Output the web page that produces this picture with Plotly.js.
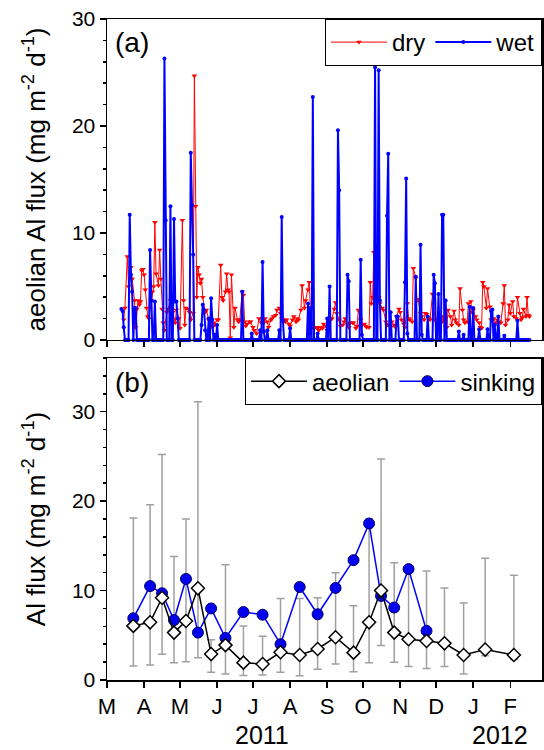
<!DOCTYPE html>
<html><head><meta charset="utf-8">
<script src="https://cdn.plot.ly/plotly-3.0.1.min.js"></script>
<style>html,body{margin:0;padding:0;background:#fff}</style>
</head><body><div id="chart" style="width:544px;height:750px"></div>
<script>
// ---- data ----
const startDate = '2011-03-01';           // day 0
const dryDays = [14,15,17,18,20,21,23,24,25,26,
 27,28,29,30,31,32,33,34,35,37,
 38,39,40,41,43,44,45,46,47,48,
 50,51,53,54,55,57,58,60,61,63,
 64,65,66,68,69,70,72,73,74,75,
 76,77,78,79,80,82,83,85,86,88,
 89,90,92,93,95,96,97,99,100,101,
 102,103,104,106,107,109,110,111,113,114,
 115,116,117,119,120,122,123,125,127,129,
 130,131,132,134,135,137,138,139,141,142,
 144,145,146,148,149,150,152,153,155,156,
 158,159,160,162,163,165,166,168,169,170,
 172,173,175,176,177,179,180,181,183,184,
 185,187,188,190,191,192,194,195,197,198,
 199,201,202,203,205,206,208,209,210,212,
 213,215,216,217,219,220,221,222,223,224,
 227,228,230,231,233,234,235,237,238,240,
 241,242,244,245,246,248,249,251,252,253,
 255,256,258,259,260,262,263,265,266,267,
 269,270,272,273,274,276,277,278,280,281,
 283,284,285,287,288,290,291,292,294,295,
 297,298,299,301,302,304,305,306,308,309,
 311,312,313,314,315,317,318,320,321,322,
 323,325,326,328,329,331,332,333,335,336,
 337,339,340,342,343,345,346,347,348,350,
 351,352,353];
const dryFlux = [1.9,3.0,7.8,5.0,6.8,5.7,3.7,1.2,2.9,3.7,
 3.3,3.6,6.5,6.6,6.1,4.7,3.0,2.2,2.0,3.7,
 4.5,5.0,11.0,6.2,5.1,8.4,5.7,2.9,1.6,0.9,
 2.6,2.9,3.7,1.9,2.6,1.6,2.8,2.0,1.1,11.2,
 3.7,1.4,3.0,2.9,2.6,1.9,2.5,24.7,12.5,4.0,
 6.8,6.1,5.3,5.7,4.0,2.6,2.8,1.9,1.7,1.2,
 1.6,1.4,1.9,1.9,7.0,4.0,3.7,4.5,6.2,4.7,
 4.5,0.2,6.1,1.2,3.0,1.9,1.7,1.9,4.5,4.2,
 1.7,1.3,1.5,1.7,1.7,1.2,0.9,0.6,2.0,1.6,
 1.9,1.6,2.0,1.7,1.2,1.9,2.0,2.2,2.3,2.8,
 3.0,2.5,2.0,1.9,1.7,1.9,1.5,1.3,1.9,2.2,
 1.7,2.0,1.9,2.8,5.1,3.0,3.7,4.7,5.4,2.8,
 1.2,1.1,1.2,1.1,0.9,1.2,1.1,1.5,1.3,0.9,
 1.9,1.9,2.0,2.9,3.5,2.5,1.9,1.3,1.4,1.7,
 2.0,1.5,1.2,1.6,1.6,1.6,1.1,1.3,2.8,1.9,
 1.4,1.5,1.3,1.2,1.2,5.4,3.4,4.0,8.2,5.0,
 4.0,3.4,3.0,2.8,1.7,1.4,1.5,1.2,1.7,1.4,
 1.2,2.2,2.9,2.6,1.9,1.5,1.2,3.4,2.0,1.9,
 1.7,6.7,5.8,3.7,3.8,2.5,2.2,1.9,2.5,2.4,
 2.0,1.9,4.3,3.4,1.9,1.5,1.2,1.9,1.7,2.2,
 1.2,1.2,2.8,2.2,1.4,2.7,1.9,1.6,1.4,4.8,
 2.8,1.9,1.6,1.7,3.4,3.6,2.6,2.8,2.2,1.9,
 1.6,1.2,1.1,5.4,5.0,3.0,4.8,3.1,1.9,1.9,
 2.0,1.6,1.9,1.7,1.6,3.4,5.1,1.4,1.9,3.3,
 2.5,3.6,2.2,2.0,4.0,2.5,1.9,2.1,2.9,2.2,
 4.0,2.3,2.2];
// wet deposition: sampled every day from wetFirstDay to wetLastDay, zero except on these days
const wetFirstDay = 12, wetLastDay = 353;
const wetEventDays = [12,13,14,19,20,21,23,24,36,37,40,48,49,53,56,57,58,59,70,71,72,
 79,80,81,82,85,87,88,90,92,113,121,128,130,131,134,144,146,147,153,168,170,172,176,
 184,186,193,194,201,202,212,213,224,227,228,234,235,237,242,243,249,250,251,258,262,263,268,
 273,274,277,280,281,283,294,298,303,306,311,318,321,322,324,327,332,343];
const wetEventFlux = [2.9,2.7,1.2,11.7,6.1,4.5,3.0,3.0,8.4,3.7,3.6,26.3,11.2,12.5,11.3,3.6,3.6,2.0,17.5,12.6,8.0,
 1.4,3.3,2.8,0.9,2.0,3.9,1.9,0.5,1.4,4.5,0.6,0.9,7.3,0.8,0.9,0.9,11.5,1.8,1.1,3.4,3.0,22.7,0.6,
 2.0,5.0,19.6,14.0,6.1,5.5,7.5,0.5,25.5,25.2,3.7,11.6,17.4,2.6,2.2,2.2,5.4,15.1,0.6,5.9,8.9,0.5,2.2,
 6.1,5.3,4.3,11.7,11.7,3.7,0.8,0.5,3.1,3.0,1.0,1.0,2.7,2.85,1.4,2.2,0.4,1.8];

const monthTicks = ['2011-03-01','2011-04-01','2011-05-01','2011-06-01','2011-07-01','2011-08-01',
 '2011-09-01','2011-10-01','2011-11-01','2011-12-01','2012-01-01','2012-02-01'];
const monthLabels = ['M','A','M','J','J','A','S','O','N','D','J','F'];
const xRange = ['2011-03-01','2012-02-27 12:00'];

const sampleDates = ['2011-03-23','2011-04-06','2011-04-16','2011-04-26','2011-05-06','2011-05-16',
 '2011-05-27','2011-06-08','2011-06-23','2011-07-09','2011-07-24','2011-08-09','2011-08-24',
 '2011-09-08','2011-09-23','2011-10-06','2011-10-16','2011-10-27','2011-11-08','2011-11-23',
 '2011-12-08','2011-12-24','2012-01-11','2012-02-04'];
const aeolianFlux = [6.05,6.45,9.2,5.3,6.6,10.25,2.9,3.9,1.94,1.79,3.1,2.8,3.47,4.78,3.06,6.45,10.0,5.3,4.55,4.37,4.1,2.8,3.4,2.8];
const aeolianHigh = [18.1,19.6,25.2,13.8,18.0,31.1,4.5,12.9,6.05,4.9,9.1,9.1,9.2,12.0,8.3,18.0,24.7,13.1,12.6,12.2,10.3,8.6,13.6,11.7];
const aeolianLow  = [1.57,1.68,2.87,1.94,2.05,2.5,0.86,0.67,0.49,0.56,0.86,0.48,1.2,1.79,0.93,1.94,3.85,1.98,1.5,1.3,1.5,0.67,2.7,2.3];
const sinkingFlux = [6.9,10.5,9.7,6.7,11.3,5.3,8.0,4.7,7.6,7.3,4.0,10.4,7.35,10.3,13.4,17.5,9.4,8.1,12.4,5.5];

// ---- helpers ----
function dayToDate(d){
  const t = new Date(Date.parse(startDate + 'T00:00:00Z') + d*86400000);
  return t.toISOString().slice(0,10);
}
const wetMap = {};
wetEventDays.forEach((d,i)=>{ wetMap[d] = wetEventFlux[i]; });
const wetX = [], wetY = [];
for (let d = wetFirstDay; d <= wetLastDay; d++){ wetX.push(dayToDate(d)); wetY.push(wetMap[d] !== undefined ? wetMap[d] : 0); }

const FONT = 'Liberation Sans, Arial, sans-serif';
const traces = [
  {x: dryDays.map(dayToDate), y: dryFlux, name:'dry', type:'scatter', mode:'lines+markers',
   xaxis:'x', yaxis:'y', legend:'legend',
   line:{color:'#ff0000', width:1}, marker:{symbol:'triangle-down', size:5, color:'#ff0000'}},
  {x: wetX, y: wetY, name:'wet', type:'scatter', mode:'lines+markers', cliponaxis:false,
   xaxis:'x', yaxis:'y', legend:'legend',
   line:{color:'#0000ff', width:2}, marker:{symbol:'circle', size:4, color:'#0000ff'}},
  {x: sampleDates, y: aeolianFlux, type:'scatter', mode:'markers', showlegend:false,
   xaxis:'x2', yaxis:'y2', hoverinfo:'skip',
   marker:{size:1, color:'rgba(0,0,0,0)'},
   error_y:{type:'data', symmetric:false,
     array: aeolianHigh.map((h,i)=>h-aeolianFlux[i]),
     arrayminus: aeolianFlux.map((v,i)=>v-aeolianLow[i]),
     color:'#a0a0a0', thickness:1.5, width:4}},
  {x: sampleDates.slice(0, sinkingFlux.length), y: sinkingFlux, name:'sinking', type:'scatter', mode:'lines+markers',
   xaxis:'x2', yaxis:'y2', legend:'legend2', legendrank:2, cliponaxis:false,
   line:{color:'#0000ff', width:1.5}, marker:{symbol:'circle', size:11, color:'#0000ee', line:{color:'#000066', width:1}}},
  {x: sampleDates, y: aeolianFlux, name:'aeolian', type:'scatter', mode:'lines+markers',
   xaxis:'x2', yaxis:'y2', legend:'legend2', legendrank:1, cliponaxis:false,
   line:{color:'#000000', width:1.5}, marker:{symbol:'diamond', size:10, color:'#ffffff', line:{color:'#000000', width:1.5}}}
];

const topDom = [0.5144, 1], botDom = [0, 0.4871];
const xBase = {type:'date', range:xRange, tickvals:monthTicks, ticktext:monthLabels,
  showgrid:false, zeroline:false, tickcolor:'#000', tickwidth:1.5};
const yBase = {showgrid:false, zeroline:false, tickcolor:'#000', tickwidth:1.5, dtick:10, tick0:0};

const layout = {
  width:544, height:750, margin:{l:107, r:2, t:19, b:70},
  paper_bgcolor:'#fff', plot_bgcolor:'#fff', font:{family:FONT, color:'#000', size:21},
  showlegend:true,
  xaxis: Object.assign({}, xBase, {anchor:'y', domain:[0,1], showticklabels:false, ticks:'outside', ticklen:6,
    showline:true, linecolor:'#000', linewidth:1.5, mirror:true}),
  xaxis2: Object.assign({}, xBase, {anchor:'y2', domain:[0,1], showticklabels:true, ticks:'outside', ticklen:6,
    showline:true, linecolor:'#000', linewidth:1.5, mirror:true, tickfont:{family:FONT, size:22}}),
  xaxis3: Object.assign({}, xBase, {overlaying:'x', anchor:'y', side:'top', showticklabels:false, ticks:'inside', ticklen:6, showline:false}),
  xaxis4: Object.assign({}, xBase, {overlaying:'x2', anchor:'y2', side:'top', showticklabels:false, ticks:'inside', ticklen:6, showline:false}),
  yaxis: Object.assign({}, yBase, {anchor:'x', domain:topDom, range:[0,30], ticks:'outside', ticklen:6,
    minor:{dtick:2, ticks:'outside', ticklen:3, tickcolor:'#000', tickwidth:1.5},
    showline:true, linecolor:'#000', linewidth:1.5, mirror:true, tickfont:{family:FONT, size:21},
    title:{text:'aeolian Al flux (mg m<sup>-2</sup> d<sup>-1</sup>)', font:{family:FONT, size:26}, standoff:19}}),
  yaxis2: Object.assign({}, yBase, {anchor:'x2', domain:botDom, range:[0,36], ticks:'outside', ticklen:6,
    minor:{dtick:2, ticks:'outside', ticklen:3, tickcolor:'#000', tickwidth:1.5},
    showline:true, linecolor:'#000', linewidth:1.5, mirror:true, tickfont:{family:FONT, size:21},
    title:{text:'Al flux (mg m<sup>-2</sup> d<sup>-1</sup>)', font:{family:FONT, size:26}, standoff:19}}),
  yaxis3: Object.assign({}, yBase, {overlaying:'y', anchor:'x', side:'right', range:[0,30], showticklabels:false, ticks:'inside', ticklen:6,
    minor:{dtick:2, ticks:'inside', ticklen:3, tickcolor:'#000', tickwidth:1.5}, showline:false}),
  yaxis4: Object.assign({}, yBase, {overlaying:'y2', anchor:'x2', side:'right', range:[0,36], showticklabels:false, ticks:'inside', ticklen:6,
    minor:{dtick:2, ticks:'inside', ticklen:3, tickcolor:'#000', tickwidth:1.5}, showline:false}),
  legend: {orientation:'h', x:1, xanchor:'right', y:1, yanchor:'top', bgcolor:'#fff', bordercolor:'#000', borderwidth:1,
    font:{family:FONT, size:24}, itemwidth:56, tracegroupgap:0},
  legend2: {orientation:'h', x:1, xanchor:'right', y:botDom[1], yanchor:'top', bgcolor:'#fff', bordercolor:'#000', borderwidth:1,
    font:{family:FONT, size:24}, itemwidth:56, traceorder:'normal'},
  annotations: [
    {text:'(a)', xref:'paper', yref:'paper', x:0.0138, y:0.9652, xanchor:'left', yanchor:'middle', showarrow:false, font:{family:FONT, size:28}},
    {text:'(b)', xref:'paper', yref:'paper', x:0.0138, y:0.4508, xanchor:'left', yanchor:'middle', showarrow:false, font:{family:FONT, size:28}},
    {text:'2011', xref:'paper', yref:'paper', x:0.3563, y:-0.0832, xanchor:'center', yanchor:'middle', showarrow:false, font:{family:FONT, size:25}},
    {text:'2012', xref:'paper', yref:'paper', x:0.9034, y:-0.0832, xanchor:'center', yanchor:'middle', showarrow:false, font:{family:FONT, size:25}}
  ]
};
Plotly.newPlot('chart', traces, layout, {displayModeBar:false, staticPlot:true});
</script></body></html>
